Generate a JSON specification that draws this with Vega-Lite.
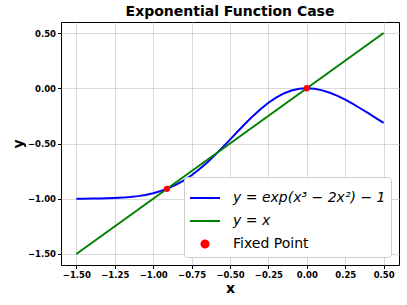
{
  "$schema": "https://vega.github.io/schema/vega-lite/v6.json",
  "autosize": "none",
  "width": 338,
  "height": 243,
  "padding": {"left": 61, "top": 22, "right": 8, "bottom": 40},
  "background": "white",
  "config": {
    "font": "DejaVu Sans",
    "view": {"stroke": "black", "strokeWidth": 1},
    "axis": {
      "labelFont": "DejaVu Sans", "labelFontWeight": "bold", "labelFontSize": 8.5, "labelColor": "black",
      "titleFont": "DejaVu Sans", "titleFontWeight": "bold", "titleFontSize": 14, "titleColor": "black",
      "tickColor": "black", "tickSize": 3.5, "domain": false,
      "grid": true, "gridColor": "#d0d0d0", "gridWidth": 0.8
    }
  },
  "title": {"text": "Exponential Function Case", "fontSize": 14, "fontWeight": "bold", "font": "DejaVu Sans", "color": "black", "offset": 3},
  "datasets": {
    "curve": [
      {"x": -1.5, "y": -0.9996}, {"x": -1.45, "y": -0.9993}, {"x": -1.4, "y": -0.9987}, {"x": -1.35, "y": -0.9978},
      {"x": -1.3, "y": -0.9962}, {"x": -1.25, "y": -0.9938}, {"x": -1.2, "y": -0.99}, {"x": -1.15, "y": -0.9845},
      {"x": -1.1, "y": -0.9765}, {"x": -1.05, "y": -0.9654}, {"x": -1.0, "y": -0.9502}, {"x": -0.95, "y": -0.9302},
      {"x": -0.9, "y": -0.9045}, {"x": -0.85, "y": -0.8724}, {"x": -0.8, "y": -0.8334}, {"x": -0.75, "y": -0.7871},
      {"x": -0.7, "y": -0.7337}, {"x": -0.65, "y": -0.6736}, {"x": -0.6, "y": -0.6078}, {"x": -0.55, "y": -0.5376},
      {"x": -0.5, "y": -0.4647}, {"x": -0.45, "y": -0.3911}, {"x": -0.4, "y": -0.3189}, {"x": -0.35, "y": -0.2501},
      {"x": -0.3, "y": -0.187}, {"x": -0.25, "y": -0.1312}, {"x": -0.2, "y": -0.0842}, {"x": -0.15, "y": -0.0472},
      {"x": -0.1, "y": -0.0208}, {"x": -0.05, "y": -0.0051}, {"x": 0.0, "y": 0.0}, {"x": 0.05, "y": -0.0049},
      {"x": 0.1, "y": -0.0188}, {"x": 0.15, "y": -0.0408}, {"x": 0.2, "y": -0.0695}, {"x": 0.25, "y": -0.1036},
      {"x": 0.3, "y": -0.1419}, {"x": 0.35, "y": -0.183}, {"x": 0.4, "y": -0.2259}, {"x": 0.45, "y": -0.2694},
      {"x": 0.5, "y": -0.3127}
    ],
    "identity": [{"x": -1.5, "y": -1.5}, {"x": 0.5, "y": 0.5}],
    "fixed": [{"x": -0.9104, "y": -0.9104}, {"x": 0.0, "y": 0.0}]
  },
  "layer": [
    {
      "mark": {"type": "rule", "color": "black", "strokeWidth": 1, "opacity": 0.8},
      "encoding": {"y": {"datum": 0, "type": "quantitative"}}
    },
    {
      "mark": {"type": "rule", "color": "black", "strokeWidth": 1, "opacity": 0.8},
      "encoding": {"x": {"datum": 0, "type": "quantitative"}}
    },
    {
      "data": {"name": "curve"},
      "transform": [{"calculate": "'y = exp(x³ − 2x²) − 1'", "as": "series"}],
      "mark": {"type": "line", "strokeWidth": 2},
      "encoding": {
        "x": {"field": "x", "type": "quantitative", "scale": {"domain": [-1.6, 0.6], "nice": false, "zero": false},
              "axis": {"values": [-1.5, -1.25, -1.0, -0.75, -0.5, -0.25, 0.0, 0.25, 0.5], "format": ".2f", "title": "x", "titlePadding": 2}},
        "y": {"field": "y", "type": "quantitative", "scale": {"domain": [-1.6, 0.6], "nice": false, "zero": false},
              "axis": {"values": [-1.5, -1.25, -1.0, -0.75, -0.5, -0.25, 0.0, 0.25, 0.5], "format": ".2f", "title": "y", "titlePadding": 2}},
        "color": {"field": "series", "type": "nominal",
          "scale": {"domain": ["y = exp(x³ − 2x²) − 1", "y = x", "Fixed Point"], "range": ["#0000ff", "#008000", "#ff0000"]},
          "legend": {
            "title": null, "orient": "bottom-right", "offset": 8,
            "fillColor": "white", "strokeColor": "#cccccc", "cornerRadius": 3, "padding": 5,
            "labelFont": "DejaVu Sans", "labelFontSize": 14, "labelColor": "black", "labelLimit": 300,
            "symbolType": "stroke", "symbolSize": 900, "symbolStrokeWidth": 2, "rowPadding": 0, "labelOffset": 12,
            "encode": {
              "symbols": {"update": {
                "shape": {"signal": "datum.value === 'Fixed Point' ? 'circle' : 'stroke'"},
                "size": {"signal": "datum.value === 'Fixed Point' ? 50 : 900"},
                "fill": {"signal": "datum.value === 'Fixed Point' ? '#ff0000' : 'transparent'"},
                "stroke": {"signal": "datum.value === 'Fixed Point' ? 'transparent' : (datum.value === 'y = x' ? '#008000' : '#0000ff')"},
                "strokeWidth": {"value": 2},
                "opacity": {"value": 1}
              }},
              "labels": {"update": {
                "fontStyle": {"signal": "datum.value === 'Fixed Point' ? 'normal' : 'italic'"}
              }}
            }
          }}
      }
    },
    {
      "data": {"name": "identity"},
      "transform": [{"calculate": "'y = x'", "as": "series"}],
      "mark": {"type": "line", "strokeWidth": 2},
      "encoding": {
        "x": {"field": "x", "type": "quantitative"},
        "y": {"field": "y", "type": "quantitative"},
        "color": {"field": "series", "type": "nominal"}
      }
    },
    {
      "data": {"name": "fixed"},
      "transform": [{"calculate": "'Fixed Point'", "as": "series"}],
      "mark": {"type": "point", "filled": true, "size": 40, "opacity": 1},
      "encoding": {
        "x": {"field": "x", "type": "quantitative"},
        "y": {"field": "y", "type": "quantitative"},
        "color": {"field": "series", "type": "nominal"}
      }
    }
  ]
}
